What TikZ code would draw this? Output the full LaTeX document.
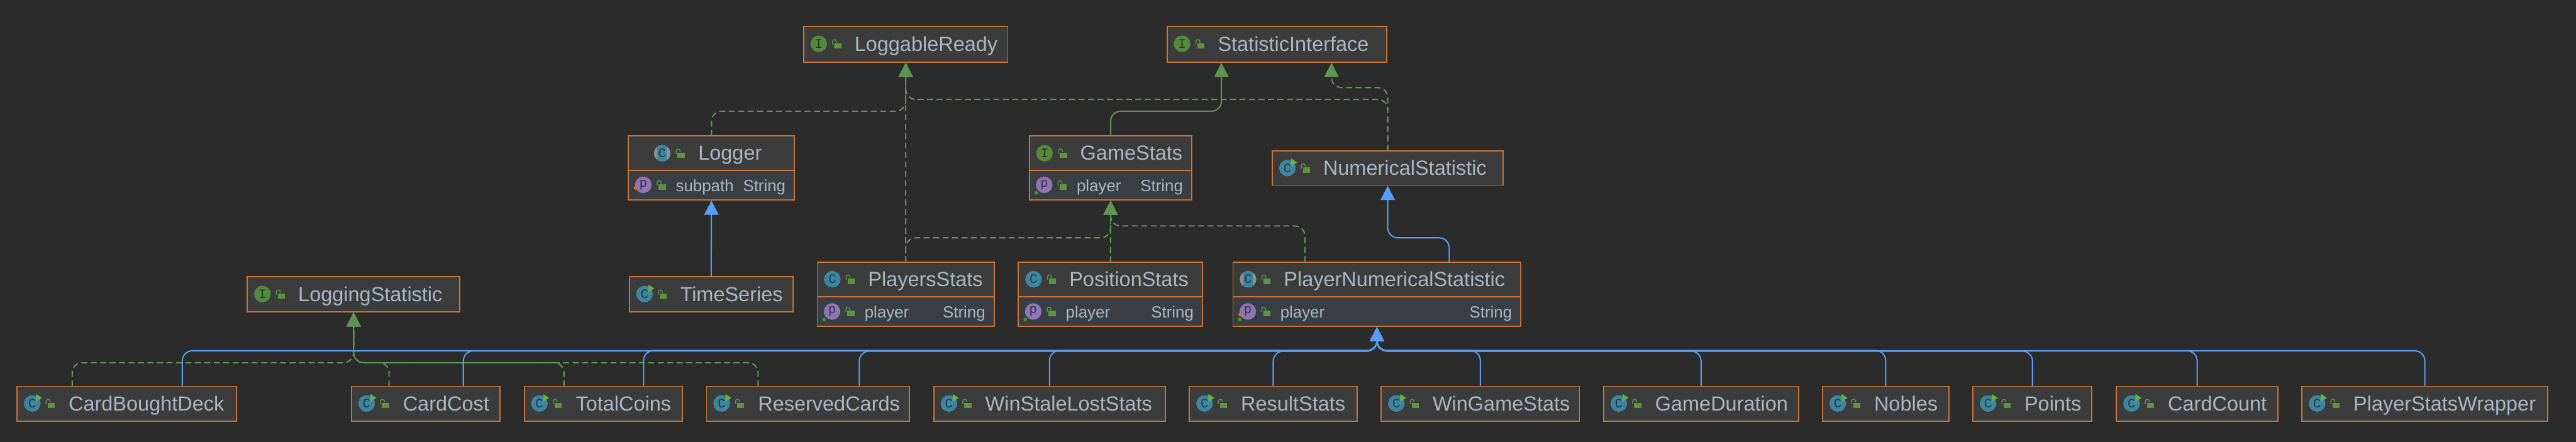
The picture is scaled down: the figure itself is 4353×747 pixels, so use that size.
\documentclass[tikz,border=0pt]{standalone}
\usepackage{fontspec}
\setmainfont{Liberation Sans}
\setmonofont{Liberation Mono}
\usetikzlibrary{arrows.meta,calc}
\definecolor{bgc}{HTML}{2B2B2B}
\definecolor{hdrc}{HTML}{3C3C3C}
\definecolor{attrc}{HTML}{3A3E42}
\definecolor{brd}{HTML}{C97432}
\definecolor{txt}{HTML}{A9B7C6}
\definecolor{grn}{HTML}{5F9552}
\definecolor{blu}{HTML}{589DF6}
\definecolor{ictl}{HTML}{3E86A0}
\definecolor{icgr}{HTML}{548A3E}
\definecolor{icpu}{HTML}{8C77B4}
\definecolor{icgy}{HTML}{8C9196}
\definecolor{lockc}{HTML}{59963C}
\definecolor{runc}{HTML}{62B543}
\definecolor{doto}{HTML}{F26522}
\definecolor{dotg}{HTML}{3DA117}
\tikzset{
  hdr/.style={draw=brd,fill=hdrc,line width=2pt,rectangle,inner sep=0pt,outer sep=0pt,anchor=north west,
    text=txt,font=\fontsize{34.5}{40}\selectfont,text height=30pt,text depth=6.6pt},
  attr/.style={draw=brd,fill=attrc,line width=2pt,rectangle,inner sep=0pt,outer sep=0pt,anchor=north west,
    text=txt,font=\fontsize{27.5}{32}\selectfont,text height=24pt,text depth=3.4pt},
  icn/.style={circle,inner sep=0pt,minimum size=28pt,font=\ttfamily\fontsize{22}{24}\selectfont},
  iconC/.style={icn,fill=ictl,text=black!55!ictl},
  iconI/.style={icn,fill=icgr,text=black!60!icgr},
  iconP/.style={icn,fill=icpu,text=black!60!icpu},
  iconA/.style={icn,text=black!55!ictl},
  edge base/.style={line width=2.2pt,rounded corners=17pt,shorten >=1pt},
  ext/.style={edge base,draw=blu,-{Triangle[length=24pt,width=24pt,fill=blu]}},
  ifc/.style={edge base,draw=grn,-{Triangle[length=24pt,width=24pt,fill=grn]}},
  impl/.style={ifc,dash pattern=on 10pt off 6pt},
}
% icons
\newcommand\lockicon[2]{%
  \fill[lockc] ({#1+26},{#2-1}) rectangle ({#1+38},{#2+8});
  \draw[lockc,line width=1.6pt,rounded corners=3pt] ({#1+23.5},{#2+1}) -- ({#1+23.5},{#2-7}) -- ({#1+30},{#2-7}) -- ({#1+30},{#2-2});
}
\newcommand\icPlain[3]{\node[iconC] (#1) at (#2,#3) {C};}
\newcommand\icRun[3]{\node[iconC] (#1) at (#2,#3) {C};
  \fill[runc] ({#2+6.5},{#3-16}) -- ({#2+16.5},{#3-9.5}) -- ({#2+6.5},{#3-3}) -- cycle;}
\newcommand\icInt[3]{\node[iconI] (#1) at (#2,#3) {I};}
\newcommand\icAbs[3]{%
  \fill[icgy] (#2,#3) circle (14);
  \begin{scope}\clip (#2,#3) circle (14);
    \fill[ictl] ({#2-8},{#3-15}) rectangle ({#2+8},{#3+15});
  \end{scope}
  \node[iconA] (#1) at (#2,#3) {C};}
% #1 icon macro, #2 name, #3 x1, #4 y1, #5 x2, #6 y2, #7 icon offset, #8 text offset, #9 text
\newcommand\classbox[9]{%
  \pgfmathsetmacro\bW{#5-#3}\pgfmathsetmacro\bH{#6-#4}%
  \pgfmathsetmacro\bIx{#3+#7}\pgfmathsetmacro\bIy{#4+29}%
  \node[hdr,minimum width=\bW pt,minimum height=\bH pt] (#2) at (#3,#4) {\makebox[\bW pt][l]{\hspace{#8pt}#9}};
  #1{#2-icon}{\bIx}{\bIy}
  \lockicon{\bIx}{\bIy}
}
% #1 name, #2 x1, #3 y1, #4 x2, #5 y2, #6 field, #7 type
\newcommand\attrbox[7]{%
  \pgfmathsetmacro\bW{#4-#2}\pgfmathsetmacro\bH{#5-#3}%
  \pgfmathsetmacro\bIx{#2+25}\pgfmathsetmacro\bIy{#3+24.5}%
  \node[attr,minimum width=\bW pt,minimum height=\bH pt] (#1) at (#2,#3) {\makebox[\bW pt][l]{\hspace{80pt}#6\hfill #7\hspace{15pt}}};
  \node[iconP] (#1-icon) at (\bIx,\bIy) {p};
  \lockicon{\bIx}{\bIy}
}
\newcommand\dotO[2]{\fill[doto] ({#1-13},{#2+5}) circle (3);}
\newcommand\dotG[2]{\fill[dotg] ({#1-13.5},{#2+13.5}) circle (3);}
\begin{document}
\begin{tikzpicture}[x=1pt,y=-1pt]
\useasboundingbox (0,0) rectangle (4353,747);
\fill[bgc] (0,0) rectangle (4353,747);
% top
\classbox{\icInt}{loggable}{1358}{45}{1703}{105}{25.5}{86}{LoggableReady}
\classbox{\icInt}{statint}{1972}{45}{2343}{105}{25.5}{86}{StatisticInterface}
% logger
\classbox{\icAbs}{logger}{1062}{230}{1342.5}{288}{57}{118}{Logger}
\attrbox{logger-attr}{1062}{288}{1342.5}{338}{subpath}{String}
\dotO{1087}{312.5}
% gamestats
\classbox{\icInt}{gamestats}{1739.5}{230}{2014}{288}{25.5}{86}{GameStats}
\attrbox{gamestats-attr}{1739.5}{288}{2014}{338}{player}{String}
\dotG{1764.5}{312.5}
\classbox{\icRun}{numerical}{2150}{255}{2540}{313}{25.5}{86}{NumericalStatistic}
% middle
\classbox{\icPlain}{players}{1381}{443}{1680}{502}{25.5}{86}{PlayersStats}
\attrbox{players-attr}{1381}{502}{1680}{552}{player}{String}
\dotG{1406}{526.5}
\classbox{\icPlain}{position}{1721}{443}{2032}{502}{25.5}{86}{PositionStats}
\attrbox{position-attr}{1721}{502}{2032}{552}{player}{String}
\dotG{1746}{526.5}
\classbox{\icAbs}{pns}{2083.5}{443}{2570}{502}{25.5}{86}{PlayerNumericalStatistic}
\attrbox{pns-attr}{2083.5}{502}{2570}{552}{player}{String}
\dotO{2108.5}{526.5}
\dotG{2108.5}{526.5}
\classbox{\icInt}{logging}{418}{468}{777}{527}{25.5}{86}{LoggingStatistic}
\classbox{\icRun}{timeseries}{1063.5}{468}{1340}{527}{25.5}{86}{TimeSeries}
% bottom
\classbox{\icRun}{cardbought}{29}{653}{400}{712}{25.5}{87}{CardBoughtDeck}
\classbox{\icRun}{cardcost}{594}{653}{845}{712}{25.5}{87}{CardCost}
\classbox{\icRun}{totalcoins}{886}{653}{1153}{712}{25.5}{87}{TotalCoins}
\classbox{\icRun}{reserved}{1194}{653}{1537}{712}{25.5}{87}{ReservedCards}
\classbox{\icRun}{winstale}{1578}{653}{1969}{712}{25.5}{87}{WinStaleLostStats}
\classbox{\icRun}{result}{2010}{653}{2293}{712}{25.5}{87}{ResultStats}
\classbox{\icRun}{wingame}{2334}{653}{2669}{712}{25.5}{87}{WinGameStats}
\classbox{\icRun}{gameduration}{2710}{653}{3039}{712}{25.5}{87}{GameDuration}
\classbox{\icRun}{nobles}{3080}{653}{3293}{712}{25.5}{87}{Nobles}
\classbox{\icRun}{points}{3334}{653}{3535}{712}{25.5}{87}{Points}
\classbox{\icRun}{cardcount}{3576.5}{653}{3849}{712}{25.5}{87}{CardCount}
\classbox{\icRun}{wrapper}{3890}{653}{4305}{712}{25.5}{87}{PlayerStatsWrapper}
% upper connectors
\draw[ext] (timeseries.north) -- (logger-attr.south);
\draw[impl] (logger.north) -- ++(0,-42) -| (loggable.south);
\draw[impl] (players.north) -- (loggable.south);
\draw[impl] (numerical.north) -- ++(0,-87) -| (loggable.south);
\draw[impl] (numerical.north) -- ++(0,-107) -| ([xshift=92.5pt]statint.south);
\draw[ifc] (gamestats.north) -- ++(0,-42) -| ([xshift=-93.5pt]statint.south);
\draw[impl] (players.north) -- ++(0,-41) -| (gamestats-attr.south);
\draw[impl] (position.north) -- (gamestats-attr.south);
\draw[impl] ([xshift=-121.75pt]pns.north) -- ++(0,-61) -| (gamestats-attr.south);
\draw[ext] ([xshift=122.25pt]pns.north) -- ++(0,-41) -| (numerical.south);
% LoggingStatistic
\draw[impl] ([xshift=-92.5pt]cardbought.north) -- ++(0,-40) -| (logging.south);
\draw[impl] ([xshift=-62pt]cardcost.north) -- ++(0,-40) -| (logging.south);
\draw[impl] ([xshift=-66.5pt]totalcoins.north) -- ++(0,-40) -| (logging.south);
\draw[impl] ([xshift=-84.5pt]reserved.north) -- ++(0,-40) -| (logging.south);
% PlayerNumericalStatistic
\draw[ext] ([xshift=93.5pt]cardbought.north) -- ++(0,-60) -| (pns-attr.south);
\draw[ext] ([xshift=63.5pt]cardcost.north) -- ++(0,-60) -| (pns-attr.south);
\draw[ext] ([xshift=68pt]totalcoins.north) -- ++(0,-60.5) -| (pns-attr.south);
\draw[ext] ([xshift=86.5pt]reserved.north) -- ++(0,-59.5) -| (pns-attr.south);
\draw[ext] (winstale.north) -- ++(0,-60.5) -| (pns-attr.south);
\draw[ext] (result.north) -- ++(0,-59.5) -| (pns-attr.south);
\draw[ext] (wingame.north) -- ++(0,-60.5) -| (pns-attr.south);
\draw[ext] (gameduration.north) -- ++(0,-59.5) -| (pns-attr.south);
\draw[ext] (nobles.north) -- ++(0,-60.5) -| (pns-attr.south);
\draw[ext] (points.north) -- ++(0,-59.5) -| (pns-attr.south);
\draw[ext] (cardcount.north) -- ++(0,-60) -| (pns-attr.south);
\draw[ext] (wrapper.north) -- ++(0,-60) -| (pns-attr.south);
\end{tikzpicture}
\end{document}
